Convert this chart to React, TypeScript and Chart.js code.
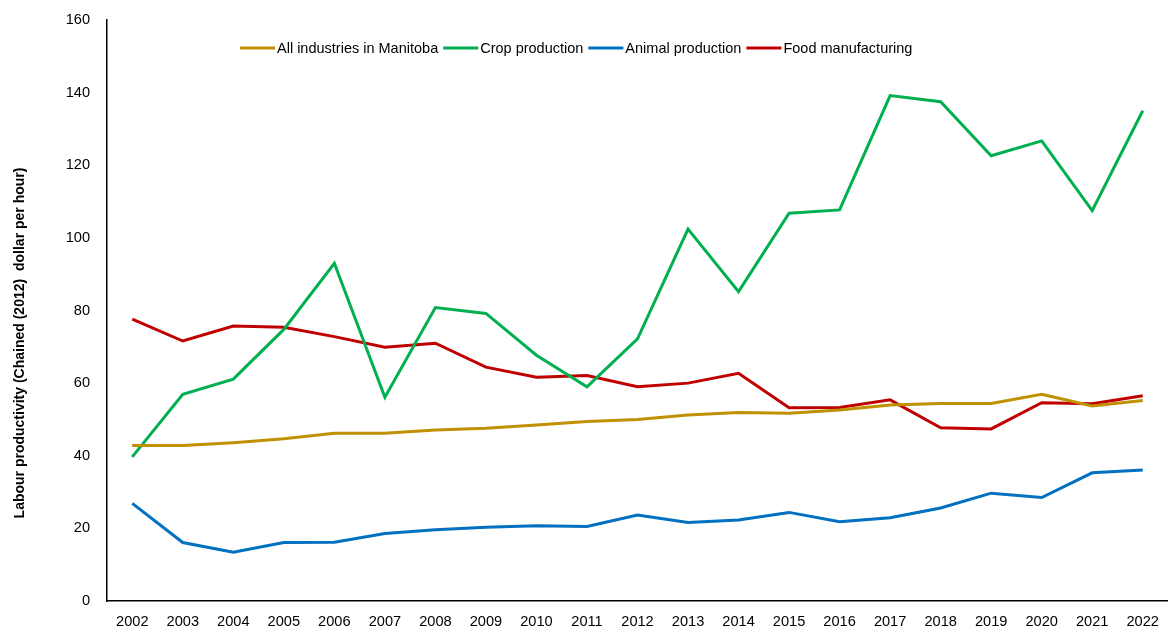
import React, { useEffect, useRef } from "react";
import { Chart, registerables } from "chart.js";

Chart.register(...registerables);

const years = ["2002","2003","2004","2005","2006","2007","2008","2009","2010","2011","2012","2013","2014","2015","2016","2017","2018","2019","2020","2021","2022"];
const allIndustries = [42.8,42.8,43.6,44.7,46.2,46.2,47.1,47.6,48.5,49.4,50.0,51.2,51.9,51.7,52.6,54.0,54.4,54.4,56.9,53.7,55.2];
const cropProduction = [39.7,56.9,61.1,74.8,93.0,56.1,80.8,79.2,67.7,59.0,72.2,102.4,85.2,106.8,107.7,139.2,137.5,122.6,126.7,107.5,135.0];
const animalProduction = [26.9,16.1,13.4,16.1,16.2,18.6,19.6,20.3,20.7,20.5,23.7,21.6,22.3,24.4,21.8,22.9,25.6,29.7,28.5,35.3,36.1];
const foodManufacturing = [77.6,71.6,75.7,75.4,72.8,69.9,71.0,64.4,61.6,62.1,59.0,60.0,62.7,53.2,53.3,55.4,47.7,47.4,54.6,54.3,56.5];
const seriesNames = ["All industries in Manitoba","Crop production","Animal production","Food manufacturing"];
const seriesColors = ["#BF9000","#00B050","#0070C0","#C00000"];
const yTitle = "Labour productivity (Chained (2012)  dollar per hour)";

const FONT = "'Liberation Sans', Arial, sans-serif";

const customDraw = {
  id: "customDraw",
  afterDraw(chart: any) {
    const ctx = chart.ctx;
    ctx.save();
    // legend
    ctx.font = `14.5px ${FONT}`;
    ctx.textBaseline = "middle";
    ctx.textAlign = "left";
    let x = 240;
    const y = 48;
    chart.data.datasets.forEach((ds: any) => {
      ctx.strokeStyle = ds.borderColor;
      ctx.lineWidth = 3;
      ctx.lineCap = "butt";
      ctx.beginPath();
      ctx.moveTo(x, y);
      ctx.lineTo(x + 35, y);
      ctx.stroke();
      ctx.fillStyle = "#000";
      ctx.fillText(ds.label, x + 37, y + 1);
      x += 37 + ctx.measureText(ds.label).width + 5;
    });
    // y title
    ctx.font = `bold 14px ${FONT}`;
    ctx.translate(20, 343);
    ctx.rotate(-Math.PI / 2);
    ctx.textAlign = "center";
    ctx.fillStyle = "#000";
    ctx.fillText(yTitle, 0, 0);
    ctx.restore();
  },
};

const zeroPad = (s: any) => {
  s.paddingTop = 0;
  s.paddingBottom = 0;
  s.paddingLeft = 0;
  s.paddingRight = 0;
};

export default function App() {
  const ref = useRef<HTMLCanvasElement>(null);
  useEffect(() => {
    const values = [allIndustries, cropProduction, animalProduction, foodManufacturing];
    const chart = new Chart(ref.current!, {
      type: "line",
      data: {
        labels: years,
        datasets: values.map((v, i) => ({
          label: seriesNames[i],
          data: v,
          borderColor: seriesColors[i],
          backgroundColor: seriesColors[i],
          borderWidth: 3,
          pointRadius: 0,
          tension: 0,
          fill: false,
        })),
      },
      options: {
        animation: false,
        responsive: false,
        maintainAspectRatio: false,
        layout: { padding: { top: 20, left: 0, right: 0, bottom: 0 } },
        plugins: { legend: { display: false }, tooltip: { enabled: false }, title: { display: false } },
        scales: {
          x: {
            type: "category",
            offset: true,
            grid: { display: false, drawTicks: false },
            border: { display: true, color: "#000", width: 1.5 },
            ticks: { color: "#000", font: { size: 14.6, family: FONT }, padding: 12, maxRotation: 0, autoSkip: false },
            afterFit: (s: any) => { s.height = 36; zeroPad(s); },
          },
          y: {
            min: 0,
            max: 160,
            grid: { display: false, drawTicks: false },
            border: { display: true, color: "#000", width: 1.5 },
            ticks: { stepSize: 20, color: "#000", font: { size: 14.6, family: FONT }, padding: 17 },
            afterFit: (s: any) => { s.width = 107; zeroPad(s); },
          },
        },
      },
      plugins: [customDraw],
    });
    return () => chart.destroy();
  }, []);
  return (
    <div style={{ position: "fixed", left: 0, top: 0, width: 1168, height: 637, background: "#fff" }}>
      <canvas ref={ref} width={1168} height={637} style={{ display: "block" }} />
    </div>
  );
}
